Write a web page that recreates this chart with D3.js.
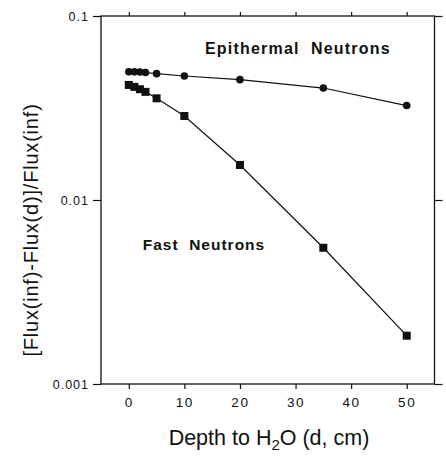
<!DOCTYPE html>
<html>
<head>
<meta charset="utf-8">
<script src="https://cdn.jsdelivr.net/npm/d3@7"></script>
<style>
  html, body { margin: 0; padding: 0; background: #fff; }
  svg { display: block; }
  text { font-family: "Liberation Sans", Arial, Helvetica, sans-serif; fill: #111; }
</style>
</head>
<body>
<svg id="chart" width="446" height="456"></svg>
<script>
// ---- data ----
const depths = [0, 1, 2, 3, 5, 10, 20, 35, 50];
const epithermal = [0.0498, 0.0497, 0.0496, 0.0493, 0.0486, 0.0472, 0.0451, 0.0406, 0.0326];
const fast = [0.0422, 0.0412, 0.0400, 0.0387, 0.0357, 0.0286, 0.0155, 0.0055, 0.00183];
const xTicks = [0, 10, 20, 30, 40, 50];
const yTicks = [0.001, 0.01, 0.1];
const yTickLabels = ["0.001", "0.01", "0.1"];

const svg = d3.select("#chart");
const mLeft = 101, mRight = 434.5, mTop = 16, mBottom = 384;

const x = d3.scaleLinear().domain([-5, 55]).range([mLeft, mRight]);
const y = d3.scaleLog().domain([0.001, 0.1]).range([mBottom, mTop]);

const ink = "#111";

// frame
svg.append("rect")
  .attr("x", mLeft).attr("y", mTop)
  .attr("width", mRight - mLeft).attr("height", mBottom - mTop)
  .attr("fill", "none").attr("stroke", ink).attr("stroke-width", 1.3);

function styleAxis(g) {
  g.select(".domain").remove();
  g.selectAll(".tick line").attr("stroke", ink).attr("stroke-width", 1.2);
  g.selectAll(".tick text")
    .style("font-size", "13.5px")
    .style("letter-spacing", "1.6px")
    .attr("fill", ink);
}

// bottom axis
svg.append("g")
  .attr("transform", `translate(0,${mBottom})`)
  .call(d3.axisBottom(x).tickValues(xTicks).tickSize(5).tickPadding(8).tickFormat(d3.format("d")))
  .call(styleAxis);

// top axis
svg.append("g")
  .attr("transform", `translate(0,${mTop})`)
  .call(d3.axisTop(x).tickValues(xTicks).tickSize(4).tickFormat(""))
  .call(styleAxis);

// left axis
svg.append("g")
  .attr("transform", `translate(${mLeft},0)`)
  .call(d3.axisLeft(y).tickValues(yTicks).tickSize(8).tickPadding(4)
    .tickFormat((d, i) => yTickLabels[i]))
  .call(styleAxis)
  .selectAll(".tick text").style("font-size", "12.5px").style("letter-spacing", "1px");

// right axis
svg.append("g")
  .attr("transform", `translate(${mRight},0)`)
  .call(d3.axisRight(y).tickValues(yTicks).tickSize(8).tickFormat(""))
  .call(styleAxis);

// lines
const line = d3.line().x(d => x(d[0])).y(d => y(d[1]));
const epiPts = depths.map((d, i) => [d, epithermal[i]]);
const fastPts = depths.map((d, i) => [d, fast[i]]);

svg.append("path").datum(epiPts).attr("d", line)
  .attr("fill", "none").attr("stroke", ink).attr("stroke-width", 1.2);
svg.append("path").datum(fastPts).attr("d", line)
  .attr("fill", "none").attr("stroke", ink).attr("stroke-width", 1.2);

// markers
svg.append("g").selectAll("circle").data(epiPts).join("circle")
  .attr("cx", d => x(d[0])).attr("cy", d => y(d[1])).attr("r", 3.8)
  .attr("fill", ink);

const s = 8;
svg.append("g").selectAll("rect").data(fastPts).join("rect")
  .attr("x", d => x(d[0]) - s / 2).attr("y", d => y(d[1]) - s / 2)
  .attr("width", s).attr("height", s)
  .attr("fill", ink);

// annotations
svg.append("text")
  .attr("x", x(13.7)).attr("y", y(0.0622))
  .style("font-size", "16px").style("font-weight", "bold").style("letter-spacing", "1.2px")
  .attr("xml:space", "preserve")
  .text("Epithermal  Neutrons");

svg.append("text")
  .attr("x", x(2.5)).attr("y", y(0.00535))
  .style("font-size", "15.5px").style("font-weight", "bold").style("letter-spacing", "1px")
  .attr("xml:space", "preserve")
  .text("Fast  Neutrons");

// axis titles
const xt = svg.append("text")
  .attr("x", 269).attr("y", 445)
  .attr("text-anchor", "middle")
  .style("font-size", "21.5px");
xt.append("tspan").text("Depth to H");
xt.append("tspan").attr("dy", 5).style("font-size", "15px").text("2");
xt.append("tspan").attr("dy", -5).text("O (d, cm)");

svg.append("text")
  .attr("transform", "translate(38,230) rotate(-90)")
  .attr("text-anchor", "middle")
  .style("font-size", "20px")
  .style("letter-spacing", "0.8px")
  .text("[Flux(inf)-Flux(d)]/Flux(inf)");
</script>
</body>
</html>
